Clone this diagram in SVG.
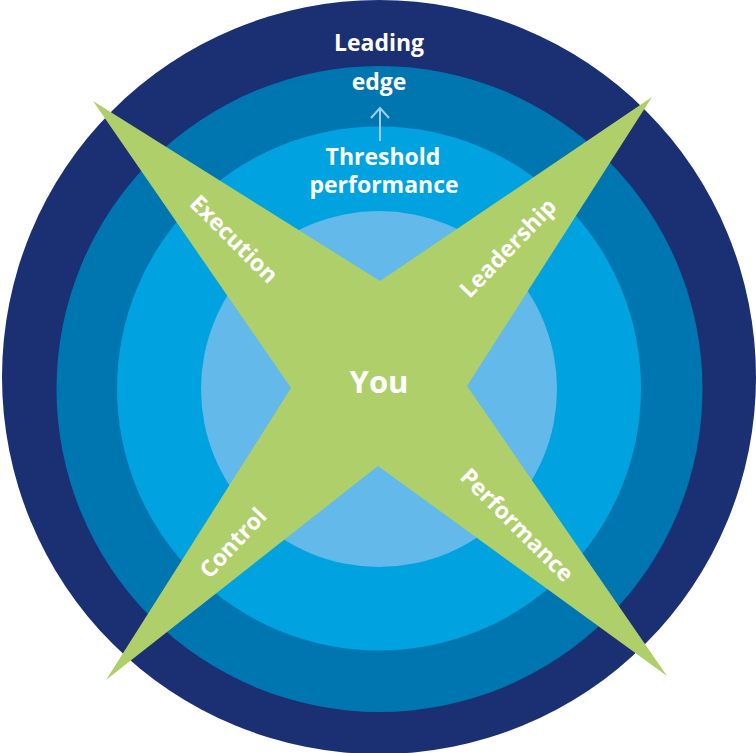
<svg xmlns="http://www.w3.org/2000/svg" width="756" height="753" viewBox="0 0 756 753">
  <style>
    .lbl { font-family: "Open Sans", "Liberation Sans", sans-serif; font-weight: bold; fill: #ffffff; text-anchor: middle; }
    .arm { font-size: 23px; }
  </style>
  <rect width="756" height="753" fill="#ffffff"/>
  <g id="ring-leading-edge">
    <circle cx="379" cy="377" r="377" fill="#1B2F73"/>
  </g>
  <g id="ring-middle">
    <circle cx="379.5" cy="389" r="323" fill="#0076B0"/>
  </g>
  <g id="ring-threshold">
    <circle cx="379" cy="388.5" r="262" fill="#00A3E0"/>
  </g>
  <g id="ring-inner">
    <circle cx="379" cy="389" r="178" fill="#62B9EA"/>
  </g>
  <g id="star">
    <polygon points="93,101 380,281 652,97 467,386 667,676 378,466 106,680 291,388" fill="#AECF6A"/>
  </g>
  <g id="connectors">
    <line x1="380" y1="141" x2="380" y2="109" stroke="#9CCFEE" stroke-width="2"/>
    <polyline points="371,118 380,108 389,118" fill="none" stroke="#9CCFEE" stroke-width="2"/>
  </g>
  <g id="label-leading-edge">
    <text class="lbl" x="379" y="51" font-size="23">Leading</text>
    <text class="lbl" x="379" y="90" font-size="23">edge</text>
  </g>
  <g id="label-threshold">
    <text class="lbl" x="383" y="165" font-size="23">Threshold</text>
    <text class="lbl" x="384" y="193" font-size="23">performance</text>
  </g>
  <g id="label-you">
    <text class="lbl" x="379" y="393" font-size="31">You</text>
  </g>
  <g id="label-execution">
    <text class="lbl arm" transform="translate(234,239) rotate(45)" x="0" y="8">Execution</text>
  </g>
  <g id="label-leadership">
    <text class="lbl arm" transform="translate(508,248) rotate(-46)" x="0" y="8">Leadership</text>
  </g>
  <g id="label-control">
    <text class="lbl arm" transform="translate(233,543) rotate(-47)" x="0" y="8">Control</text>
  </g>
  <g id="label-performance">
    <text class="lbl arm" transform="translate(517,525) rotate(45)" x="0" y="8">Performance</text>
  </g>
</svg>
